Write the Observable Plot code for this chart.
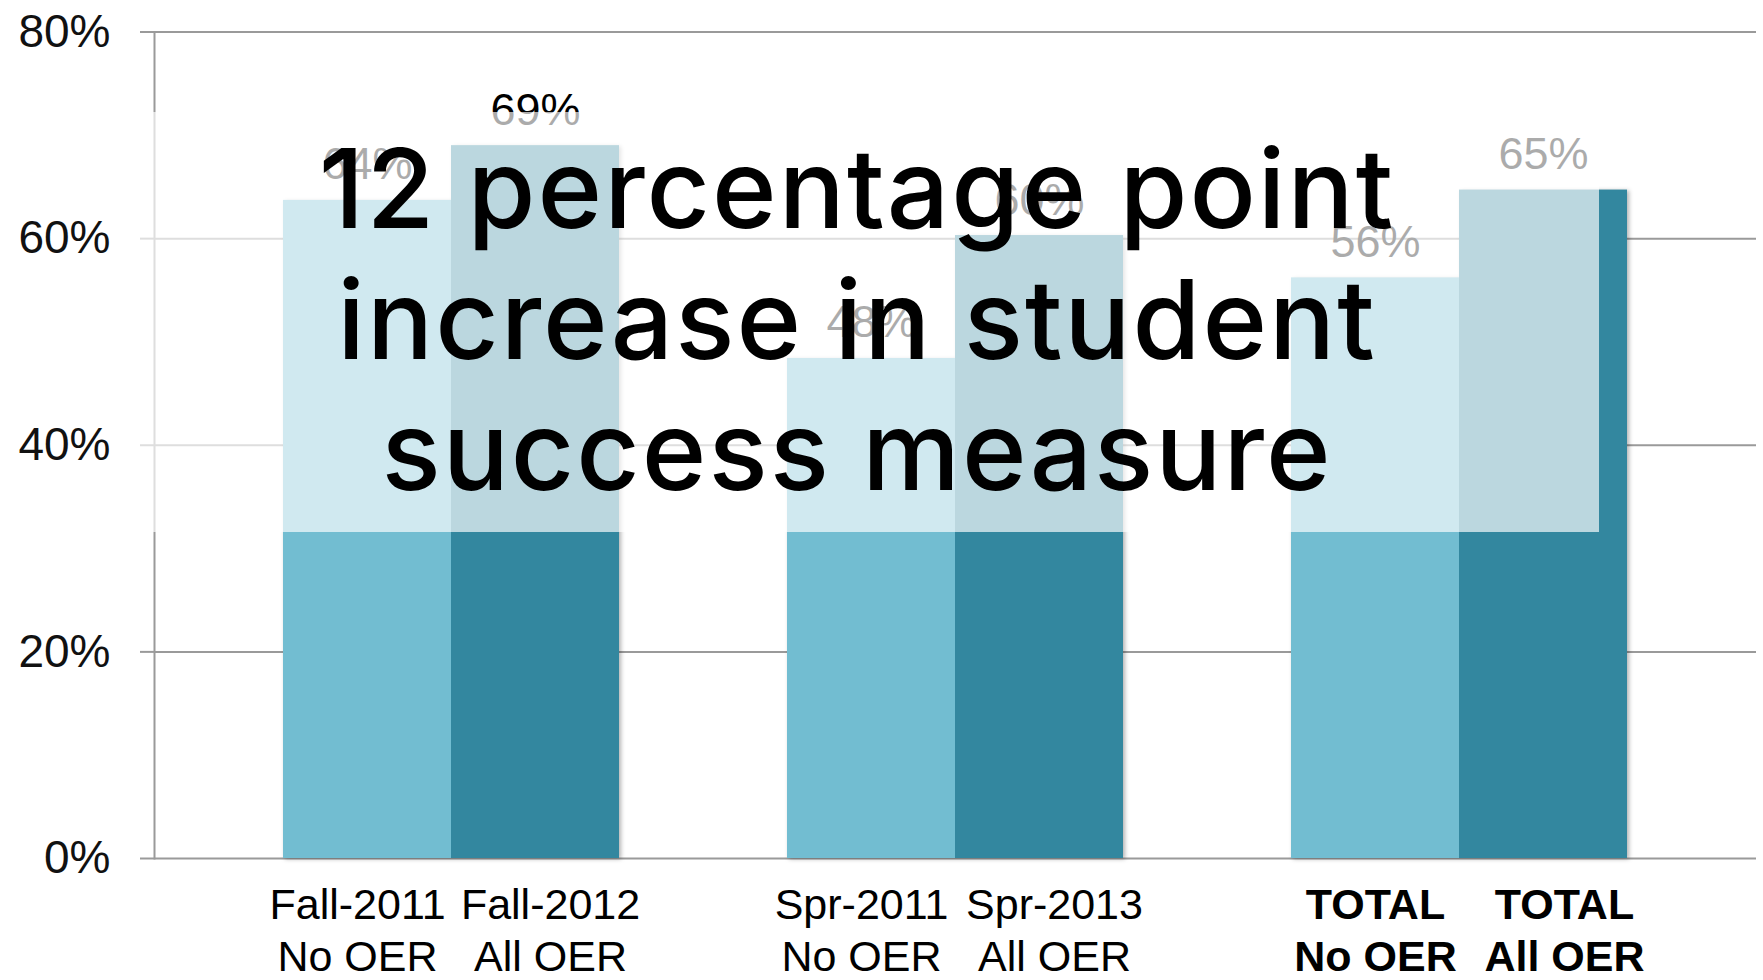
<!DOCTYPE html>
<html>
<head>
<meta charset="utf-8">
<script src="https://cdn.jsdelivr.net/npm/d3@7"></script>
<script src="https://cdn.jsdelivr.net/npm/@observablehq/plot@0.6"></script>
<style>
  html, body { margin: 0; padding: 0; background: #fff; }
  #wrap { position: relative; width: 1763px; height: 980px; overflow: hidden; }
  #overlay { position: absolute; left: 0; top: 0; pointer-events: none; }
  g[aria-label="bar"] { filter: drop-shadow(2px 1px 2px rgba(0,0,0,0.30)); }
</style>
</head>
<body>
<div id="wrap"></div>
<script>
// ---- data ----
const barLabels = [
  "Fall-2011\nNo OER", "Fall-2012\nAll OER",
  "Spr-2011\nNo OER",  "Spr-2013\nAll OER",
  "TOTAL\nNo OER",     "TOTAL\nAll OER"
];
const conditions = ["No OER", "All OER", "No OER", "All OER", "No OER", "All OER"];
const values = [63.7, 69.0, 48.4, 60.3, 56.2, 64.7];
const valueLabels = ["64%", "69%", "48%", "60%", "56%", "65%"];
const yTicks = [0, 20, 40, 60, 80];
const spacers = ["gap-1", "gap-2"];
const headline = ["12 percentage point", "increase in student", "success measure"];

const rows = barLabels.map((b, i) => ({bar: b, condition: conditions[i], value: values[i], label: valueLabels[i]}));
const xDomain = [barLabels[0], barLabels[1], spacers[0], barLabels[2], barLabels[3], spacers[1], barLabels[4], barLabels[5]];

const gridColor = "#9a9a9a";
const font = "'Liberation Sans', Arial, sans-serif";

const normalNo = [barLabels[0], barLabels[2]];
const normalAll = [barLabels[1], barLabels[3]];
const boldNo = [barLabels[4]];
const boldAll = [barLabels[5]];

const xAxisCommon = {tickSize: 0, tickPadding: 23, fontSize: 43, lineHeight: 1.22, label: null, fill: "#000"};

const chart = Plot.plot({
  width: 1763,
  height: 980,
  marginLeft: 154,
  marginRight: 7,
  marginTop: 31.5,
  marginBottom: 122,
  style: {fontFamily: font, background: "#fff", overflow: "visible"},
  x: {type: "band", domain: xDomain, paddingInner: 0, paddingOuter: 0.75},
  y: {domain: [0, 80]},
  color: {domain: ["No OER", "All OER"], range: ["#72bdd1", "#33879f"]},
  marks: [
    Plot.ruleY(yTicks, {stroke: gridColor, strokeWidth: 2}),
    Plot.frame({anchor: "left", stroke: gridColor, strokeWidth: 2}),
    Plot.axisY({ticks: yTicks, tickFormat: d => d + "%", tickSize: 14, tickPadding: 30,
      fontSize: 46, stroke: gridColor, strokeWidth: 2, fill: "#111", label: null}),
    Plot.barY(rows, {x: "bar", y: "value", fill: "condition"}),
    Plot.text(rows, {x: "bar", y: "value", text: "label", lineAnchor: "bottom", dy: -21,
      fontSize: 45, fill: "#000"}),
    Plot.axisX(normalNo, {...xAxisCommon, dx: -10}),
    Plot.axisX(normalAll, {...xAxisCommon, dx: 15}),
    Plot.axisX(boldNo, {...xAxisCommon, dx: 0, fontWeight: "bold"}),
    Plot.axisX(boldAll, {...xAxisCommon, dx: 21, fontWeight: "bold"})
  ]
});

const wrap = document.getElementById("wrap");
wrap.appendChild(chart);

// ---- headline overlay (semi-transparent white panel with text) ----
const ns = "http://www.w3.org/2000/svg";
const ov = document.createElementNS(ns, "svg");
ov.setAttribute("id", "overlay");
ov.setAttribute("width", 1763);
ov.setAttribute("height", 980);
const panel = document.createElementNS(ns, "rect");
panel.setAttribute("x", 125);
panel.setAttribute("y", 112);
panel.setAttribute("width", 1474);
panel.setAttribute("height", 420);
panel.setAttribute("fill", "#fff");
panel.setAttribute("fill-opacity", 0.67);
ov.appendChild(panel);
const t = document.createElementNS(ns, "text");
t.setAttribute("text-anchor", "middle");
t.setAttribute("font-family", "Inter, Lato, sans-serif");
t.setAttribute("font-size", 110);
t.setAttribute("font-weight", 500);
t.setAttribute("letter-spacing", 2);
t.setAttribute("fill", "#000");
headline.forEach((line, i) => {
  const ts = document.createElementNS(ns, "tspan");
  ts.setAttribute("x", 857);
  ts.setAttribute("y", 228 + i * 131);
  ts.textContent = line;
  t.appendChild(ts);
});
ov.appendChild(t);
wrap.appendChild(ov);
</script>
</body>
</html>
